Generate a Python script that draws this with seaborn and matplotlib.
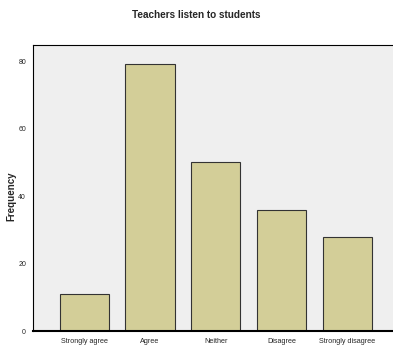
import matplotlib
matplotlib.use("Agg")
import matplotlib.pyplot as plt
import seaborn as sns
import pandas as pd

# data
categories = ["Strongly agree", "Agree", "Neither", "Disagree", "Strongly disagree"]
counts = [11, 79, 50, 36, 28]
df = pd.DataFrame({"response": categories, "frequency": counts})

sns.set_style("white")
plt.rcParams["font.family"] = ["Liberation Sans", "DejaVu Sans"]

fig = plt.figure(figsize=(3.93, 3.5), dpi=100)
ax = fig.add_axes([0.084, 0.054, 0.93, 0.817])
ax.set_facecolor("#EFEFEF")

sns.barplot(
    data=df, x="response", y="frequency", ax=ax,
    color="#D3CE98", edgecolor="#333333", linewidth=0.8,
    width=0.75, saturation=1
)

ax.set_xlim(-0.78, 4.78)
ax.set_ylim(0, 84.7)
ax.set_yticks([0, 20, 40, 60, 80])
ax.tick_params(axis="both", labelsize=5, length=3, width=0.8, pad=2, direction="out")
ax.tick_params(axis="x", labelsize=5.2)
ax.set_xlabel("")
ax.set_ylabel("Frequency", fontsize=7, fontweight="bold")
ax.yaxis.set_label_coords(-0.045, 0.47)

for s in ["left", "top", "bottom"]:
    ax.spines[s].set_visible(True)
    ax.spines[s].set_color("black")
ax.spines["left"].set_linewidth(0.8)
ax.spines["top"].set_linewidth(0.8)
ax.spines["bottom"].set_linewidth(1.5)
ax.spines["right"].set_visible(False)

fig.suptitle("Teachers listen to students", fontsize=7.2, fontweight="bold", y=0.97)

fig.savefig("out.png", dpi=100)
